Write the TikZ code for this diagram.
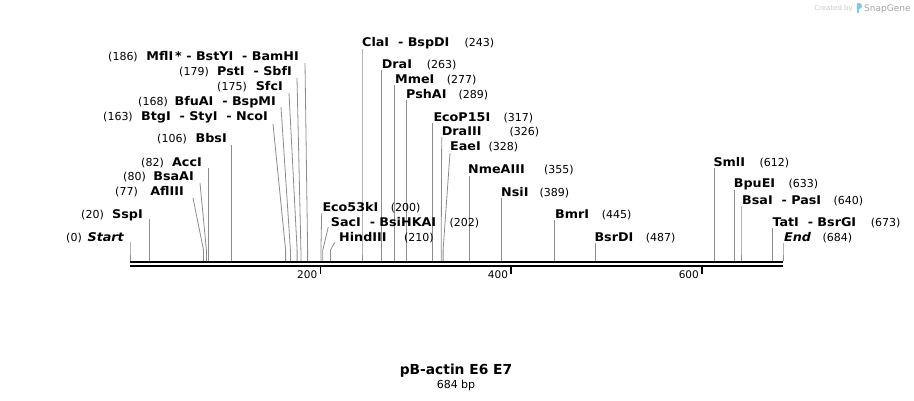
\documentclass[tikz,border=0pt]{standalone}
\usepackage{fontspec}
\setmainfont{DejaVu Sans}
\newfontfamily\namefont[FakeStretch=1.06]{DejaVu Sans}
\definecolor{sitegray}{RGB}{140,140,140}
\definecolor{wmgray}{RGB}{200,200,200}
\definecolor{wmgray2}{RGB}{165,165,165}
\definecolor{wmblue}{RGB}{120,200,240}
\begin{document}
\begin{tikzpicture}[x=1pt,y=-1pt,
  site/.style={draw=sitegray, line width=0.8pt},
  nm/.style={font=\namefont\fontsize{12}{14}\selectfont\bfseries, inner sep=0pt},
  num/.style={font=\fontsize{11}{13}\selectfont, inner sep=0pt},
  ticklbl/.style={font=\fontsize{10.5}{12}\selectfont, inner sep=0pt, anchor=base east},
  backbone/.style={draw=black, line width=2.1pt},
  tickmark/.style={draw=black, line width=1.5pt},
]
\useasboundingbox (0,0) rectangle (914,400);

% left-labelled site: id, number, number right x, name, name right x, centre y
\newcommand\lsite[6]{%
  \node[num, anchor=base east] (#1-num) at (#3,#6+4) {#2};
  \node[nm, anchor=base east] (#1-name) at (#5,#6+4) {#4};}
% right-labelled site: id, name, name left x, number, number left x, centre y
\newcommand\rsite[6]{%
  \node[nm, anchor=base west] (#1-name) at (#3,#6+4) {#2};
  \node[num, anchor=base west] (#1-num) at (#5,#6+4) {#4};}
% site line: id, bp x, top x, top y
\newcommand\sline[4]{%
  \coordinate (#1-t) at (#3,#4);
  \coordinate (#1-k) at (#2,250);
  \coordinate (#1-b) at (#2,261.2);
  \draw[site] (#1-t) -- (#1-k) -- (#1-b);}

% backbone
\coordinate (bb1s) at (130,262.3); \coordinate (bb1e) at (783,262.3);
\coordinate (bb2s) at (130,266.2); \coordinate (bb2e) at (783,266.2);
\draw[backbone] (bb1s) -- (bb1e);
\draw[backbone] (bb2s) -- (bb2e);

% ticks
\foreach \tx/\tl in {320.4/200, 511.2/400, 702/600}{
  \coordinate (tk\tl a) at (\tx,266.5);
  \coordinate (tk\tl b) at (\tx,273.8);
  \draw[tickmark] (tk\tl a) -- (tk\tl b);
  \node[ticklbl] (tl\tl) at (\tx-3,278) {\tl};
}

% site lines
\sline{st}{130}{130}{242}
\sline{ssp}{149.1}{149.1}{219}
\sline{afl}{203.5}{193}{198}
\sline{bsaa}{206.4}{200}{183}
\sline{acc}{208.3}{208.3}{168}
\sline{bbs}{231.2}{231.2}{145}
\sline{nco}{285.6}{273}{124}
\sline{bspm}{290.4}{281}{107}
\sline{sfc}{297.1}{289}{93}
\sline{sbf}{300.9}{297}{78}
\sline{bam}{307.6}{305}{63}
\sline{eco53}{320.9}{321.7}{213}
\sline{sac}{322.8}{328.3}{227}
\sline{hind}{330.5}{335}{242}
\sline{cla}{362}{362}{49}
\sline{dra}{381.1}{381.1}{70}
\sline{mme}{394.4}{394.4}{85}
\sline{psh}{405.9}{405.9}{100}
\sline{ecop}{432.6}{432.6}{123}
\sline{dra3}{441.2}{441.7}{137}
\sline{eae}{443.1}{450}{153}
\sline{nme}{468.9}{468.9}{176}
\sline{nsi}{501.4}{501.4}{198}
\sline{bmr}{554.8}{554.8}{220}
\sline{bsrd}{594.9}{594.9}{243}
\sline{sml}{714.3}{714.3}{168}
\sline{bpue}{734.3}{734.3}{190}
\sline{bsa}{741}{741}{206}
\sline{tat}{772.5}{772.5}{228}
\sline{en}{783}{783}{243}

% left labels
\lsite{st}{(0)}{82}{\itshape Start}{124}{237}
\lsite{ssp}{(20)}{104}{SspI}{143}{214}
\lsite{afl}{(77)}{138}{AflIII}{184}{191.5}
\lsite{bsaa}{(80)}{146}{BsaAI}{194}{176.5}
\lsite{acc}{(82)}{164}{AccI}{202}{162}
\lsite{bbs}{(106)}{187}{BbsI}{227}{138.3}
\lsite{nco}{(163)}{133}{BtgI\ \ - StyI\ \ - NcoI}{268}{116.5}
\lsite{bspm}{(168)}{168}{BfuAI\ \ - BspMI}{276}{101}
\lsite{sfc}{(175)}{247}{SfcI}{283}{86.5}
\lsite{sbf}{(179)}{209}{PstI\ \ - SbfI}{292}{71.5}
\lsite{bam}{(186)}{138}{MflI\,*\ - BstYI\ \ - BamHI}{299}{56.5}

% right labels
\rsite{cla}{ClaI\ \ - BspDI}{362}{(243)}{464.3}{42.5}
\rsite{dra}{DraI}{381.7}{(263)}{426.7}{64.5}
\rsite{mme}{MmeI}{395}{(277)}{446.7}{79}
\rsite{psh}{PshAI}{406}{(289)}{458.3}{94}
\rsite{ecop}{EcoP15I}{433.3}{(317)}{503.3}{117.3}
\rsite{dra3}{DraIII}{441.7}{(326)}{509.3}{131.5}
\rsite{eae}{EaeI}{450}{(328)}{488.3}{146.7}
\rsite{nme}{NmeAIII}{468}{(355)}{544}{169}
\rsite{nsi}{NsiI}{501}{(389)}{539.3}{192}
\rsite{eco53}{Eco53kI}{322.3}{(200)}{390.7}{207}
\rsite{sac}{SacI\ \ - BsiHKAI}{330.7}{(202)}{449.3}{222}
\rsite{hind}{HindIII}{339}{(210)}{404}{237}
\rsite{bmr}{BmrI}{555}{(445)}{601.7}{214}
\rsite{bsrd}{BsrDI}{594.3}{(487)}{645.7}{237.7}
\rsite{sml}{SmlI}{713.3}{(612)}{759.3}{162.7}
\rsite{bpue}{BpuEI}{733.7}{(633)}{788.3}{183.5}
\rsite{bsa}{BsaI\ \ - PasI}{742}{(640)}{833.3}{200}
\rsite{tat}{TatI\ \ - BsrGI}{772.3}{(673)}{870.7}{222}
\rsite{en}{\itshape End}{784}{(684)}{822.3}{237.7}

% title
\node[inner sep=0pt, anchor=base, font=\fontsize{13.8}{16}\selectfont\bfseries] (title) at (456,374.5) {pB-actin E6 E7};
\node[inner sep=0pt, anchor=base, font=\fontsize{11}{13}\selectfont] (size) at (456,388) {684 bp};

% watermark
\node[inner sep=0pt, anchor=base east, text=wmgray, font=\fontsize{7}{8}\selectfont] (wm1) at (853,10.5) {Created by};
\fill[wmblue] (856.5,2.5) rectangle (858.5,13);
\fill[wmblue] (858.5,2.5) .. controls (863,2.5) and (863,8.5) .. (858.5,8.5) -- cycle;
\node[inner sep=0pt, anchor=base west, text=wmgray2, font=\fontsize{9}{10}\selectfont] (wm2) at (864,11) {SnapGene};
\end{tikzpicture}
\end{document}
